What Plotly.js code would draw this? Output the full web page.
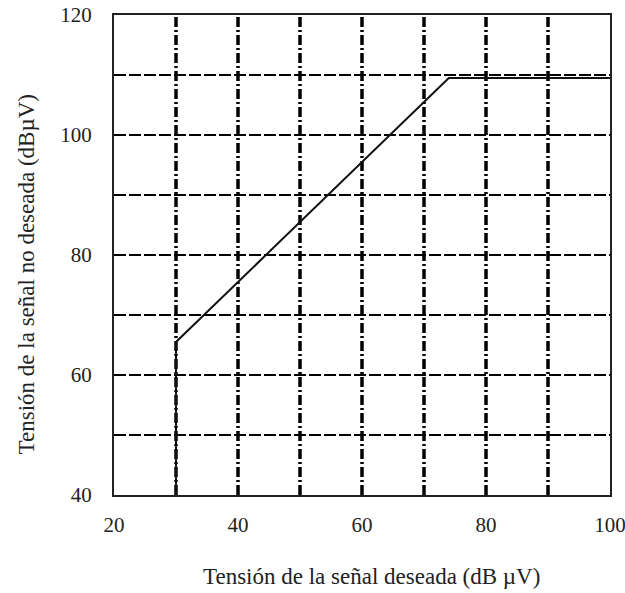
<!DOCTYPE html>
<html><head><meta charset="utf-8">
<script src="https://cdn.plot.ly/plotly-3.0.1.min.js"></script>
<style>body{margin:0;background:#fff}#c{width:625px;height:593px}</style>
</head><body><div id="c"></div>
<script>
const xVals = [30, 30, 74, 100];
const yVals = [40, 65.5, 109.5, 109.5];
const xTicks = [20, 40, 60, 80, 100];
const yTicks = [40, 60, 80, 100, 120];
const xGrid = [30, 40, 50, 60, 70, 80, 90];
const yGrid = [50, 60, 70, 80, 90, 100, 110];
const xTitle = 'Tensión de la señal deseada (dB µV)';
const yTitle = 'Tensión de la señal no deseada (dBµV)';

const tickFont = {family: '"Liberation Serif", "Times New Roman", serif', size: 21, color: '#222'};
const titleFont = {family: '"Liberation Serif", "Times New Roman", serif', size: 23, color: '#222'};
const traces = [{
  x: xVals, y: yVals, type: 'scatter', mode: 'lines',
  line: {color: '#111', width: 2}, hoverinfo: 'skip', showlegend: false
}];
const layout = {
  width: 625, height: 593,
  margin: {l: 114, r: 15, t: 15, b: 98},
  paper_bgcolor: '#fff', plot_bgcolor: '#fff',
  font: tickFont,
  xaxis: {
    range: [20, 100], tickvals: xTicks, ticktext: xTicks.map(String),
    showgrid: false, zeroline: false, showline: true, mirror: true,
    linecolor: '#222', linewidth: 2, ticks: '', tickfont: tickFont,
    ticklabelstandoff: 10, ticklabeloverflow: 'allow'
  },
  yaxis: {
    range: [40, 120], tickvals: yTicks, ticktext: yTicks.map(String),
    showgrid: false, zeroline: false, showline: true, mirror: true,
    linecolor: '#222', linewidth: 2, ticks: '', tickfont: tickFont,
    ticklabelstandoff: 16, ticklabeloverflow: 'allow'
  },
  annotations: [
    {text: xTitle, xref: 'paper', yref: 'paper', x: 0.52, y: -0.169,
     xanchor: 'center', yanchor: 'middle', showarrow: false, font: titleFont},
    {text: yTitle, xref: 'paper', yref: 'paper', x: -0.177, y: 0.46, textangle: -90,
     xanchor: 'center', yanchor: 'middle', showarrow: false, font: titleFont}
  ],
  shapes: [
    ...xGrid.map(v => ({type: 'line', xref: 'x', yref: 'paper', x0: v, x1: v, y0: 0, y1: 1,
      line: {color: '#000', width: 3.5, dash: '10px,3px,2px,3px'}, layer: 'below'})),
    ...yGrid.map(v => ({type: 'line', xref: 'paper', yref: 'y', x0: 0, x1: 1, y0: v, y1: v,
      line: {color: '#000', width: 2, dash: '12px,3px'}, layer: 'below'}))
  ]
};
Plotly.newPlot('c', traces, layout, {staticPlot: true});
</script></body></html>
